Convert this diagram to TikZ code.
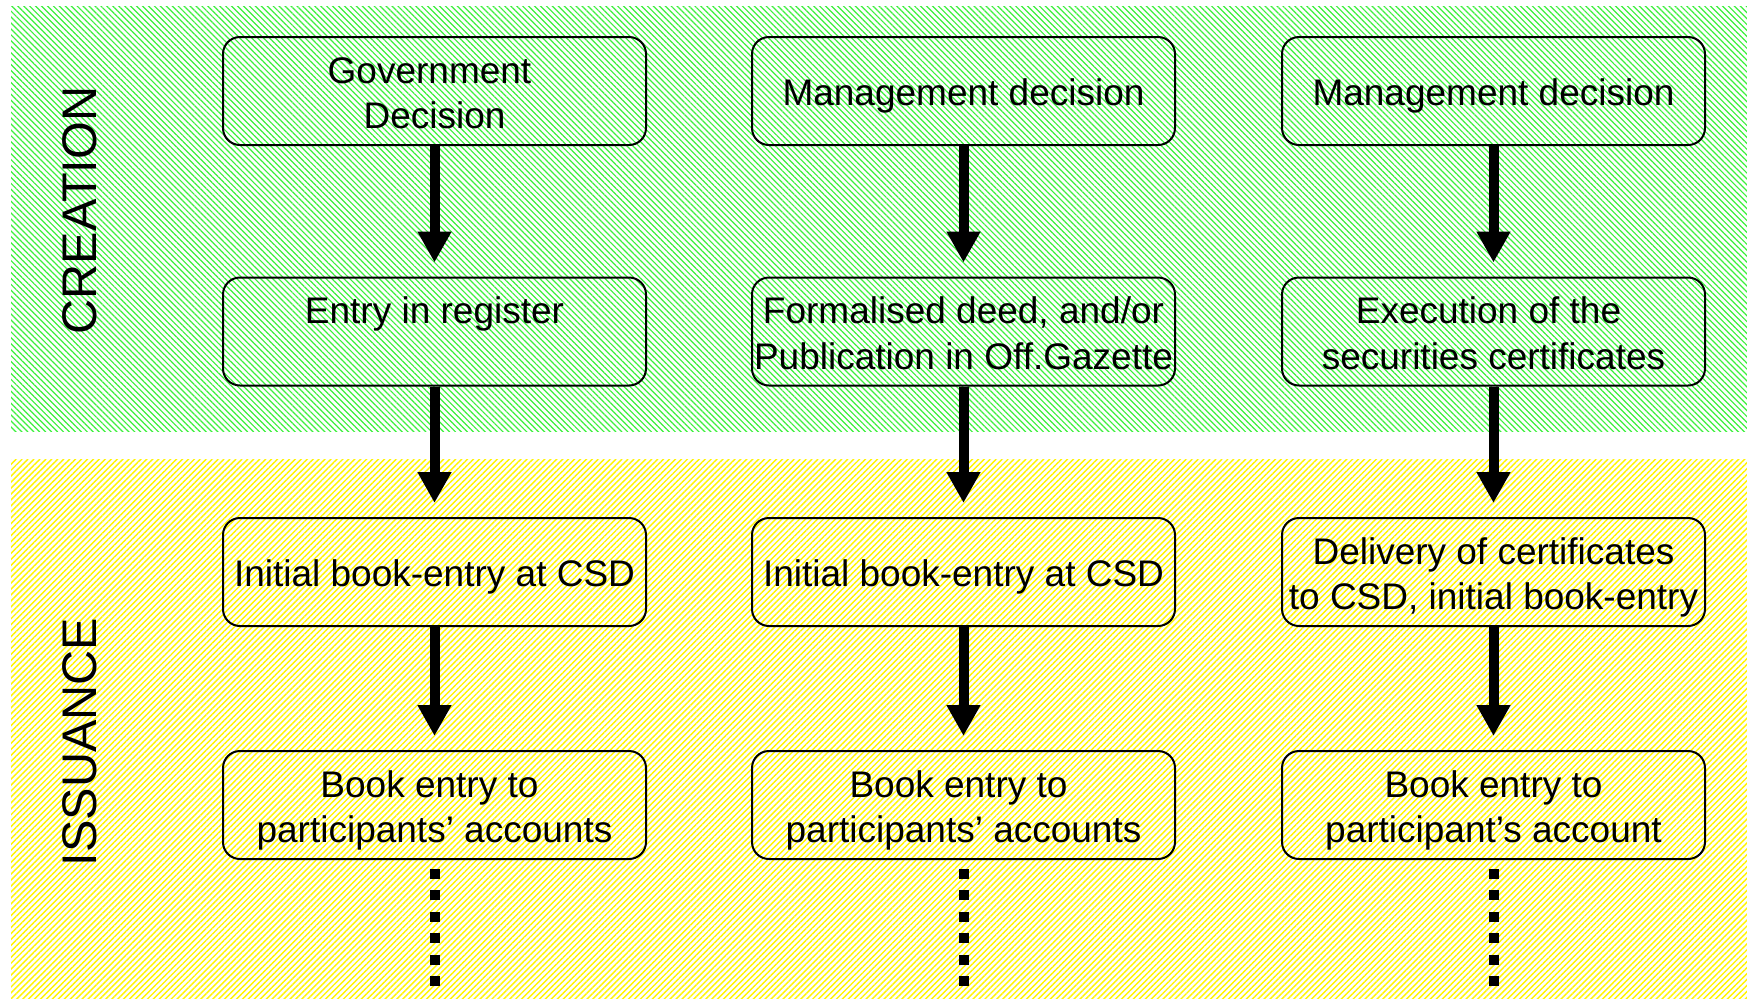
\documentclass[tikz,border=0pt]{standalone}
\usepackage{fontspec}
\setmainfont{Liberation Sans}
\usetikzlibrary{arrows.meta,patterns.meta}
\definecolor{hgreen}{RGB}{60,240,60}
\definecolor{hyellow}{RGB}{255,245,0}
\newcommand\ls{\rule[-0.21em]{0pt}{1.225em}}
\begin{document}
\begin{tikzpicture}[x=0.5pt,y=-0.5pt,
  stepbox/.style={draw=black,line width=1pt,rounded corners=8.5pt,minimum width=211.5pt,minimum height=54pt,inner sep=0pt,align=center,font=\fontsize{18.5}{22.8}\selectfont},
  flow/.style={line width=5pt,-{Triangle[width=16pt,length=15.5pt]},shorten >=7pt},
  dots/.style={line width=5pt,dash pattern=on 5pt off 5.7pt},
  bandlabel/.style={font=\fontsize{24.3}{28}\selectfont,rotate=90,inner sep=0pt},
  greenband/.style={pattern={Lines[angle=-45,distance=2.1pt,line width=0.6pt]},pattern color=hgreen},
  yellowband/.style={pattern={Lines[angle=45,distance=2.1pt,line width=0.7pt]},pattern color=hyellow}]
\useasboundingbox (0,0) rectangle (1747,998);
\fill[white] (0,0) rectangle (1747,998);
\path[greenband] (11,6) rectangle (1747,431);
\path[yellowband] (11,459) rectangle (1747,998);

\node[bandlabel] (lc) at (80,210.5) {CREATION};
\node[bandlabel] (li) at (80,742) {ISSUANCE};

% column 1
\node[stepbox] (a1) at (434.5,91) {\ls Government\hspace*{5pt}\\\ls Decision};
\node[stepbox] (a2) at (434.5,331.5) {\ls Entry in register\\\ls};
\node[stepbox] (a3) at (434.5,572) {\ls Initial book-entry at CSD};
\node[stepbox] (a4) at (434.5,805) {\ls Book entry to\hspace*{5pt}\\\ls participants’ accounts};
% column 2
\node[stepbox] (b1) at (963.5,91) {\ls Management decision};
\node[stepbox] (b2) at (963.5,331.5) {\ls Formalised deed, and/or\\\ls Publication in Off.Gazette};
\node[stepbox] (b3) at (963.5,572) {\ls Initial book-entry at CSD};
\node[stepbox] (b4) at (963.5,805) {\ls Book entry to\hspace*{5pt}\\\ls participants’ accounts};
% column 3
\node[stepbox] (c1) at (1493.5,91) {\ls Management decision};
\node[stepbox] (c2) at (1493.5,331.5) {\ls Execution of the\hspace*{5pt}\\\ls securities certificates};
\node[stepbox] (c3) at (1493.5,572) {\ls Delivery of certificates\\\ls to CSD, initial book-entry};
\node[stepbox] (c4) at (1493.5,805) {\ls Book entry to\\\ls participant’s account};

\foreach \c in {a,b,c}{
  \draw[flow] (\c1.south) -- (\c2.north);
  \draw[flow] (\c2.south) -- (\c3.north);
  \draw[flow] (\c3.south) -- (\c4.north);
}
\coordinate (ea) at (434.5,986);
\coordinate (eb) at (963.5,986);
\coordinate (ec) at (1493.5,986);
\draw[dots] ([yshift=-4.5pt]a4.south) -- (ea);
\draw[dots] ([yshift=-4.5pt]b4.south) -- (eb);
\draw[dots] ([yshift=-4.5pt]c4.south) -- (ec);
\end{tikzpicture}
\end{document}
